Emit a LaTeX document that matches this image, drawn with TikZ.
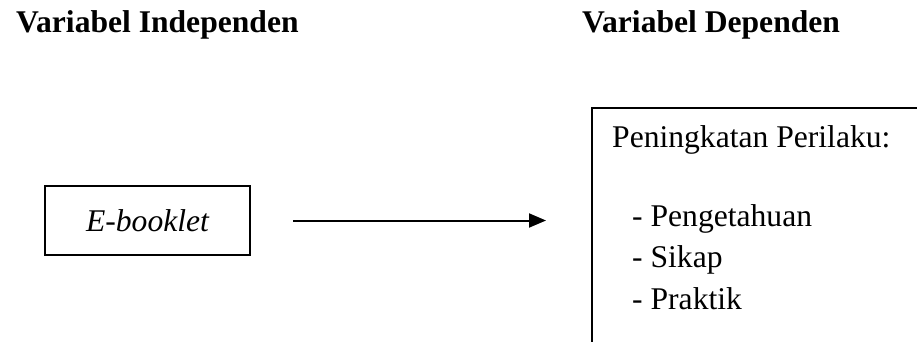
\documentclass[tikz,border=0pt]{standalone}
\usepackage{fontspec}
\setmainfont{Liberation Serif}
\usetikzlibrary{arrows.meta}
\begin{document}
\begin{tikzpicture}[x=1pt,y=-1pt,
  txt/.style={inner sep=0pt, anchor=base west, font=\fontsize{31.6}{38}\selectfont},
  ttl/.style={txt, font=\fontsize{31.6}{38}\selectfont\bfseries},
  boxline/.style={draw=black, line width=2pt},
  arr/.style={line width=2pt, -{Triangle[length=17pt,width=14pt]}}]
\useasboundingbox (0,0) rectangle (917,342);
\clip (0,0) rectangle (917,342);
\node[ttl] (t1) at (16,33) {Variabel Independen};
\node[ttl] (t2) at (582,33) {Variabel Dependen};
\node[boxline, rectangle, minimum width=205pt, minimum height=69pt, inner sep=0pt,
      font=\fontsize{31.6}{38}\selectfont\itshape] (eb) at (147.5,220.5) {E-booklet};
\node[boxline, rectangle, anchor=north west, minimum width=360pt, minimum height=280pt, inner sep=0pt] (pp) at (591,107) {};
\node[txt] (h) at (612,147) {Peningkatan Perilaku:};
\node[txt] (l1) at (632,226) {- Pengetahuan};
\node[txt] (l2) at (632,267) {- Sikap};
\node[txt] (l3) at (632,309) {- Praktik};
\coordinate (ae) at (546,220.5);
\draw[arr, shorten <=42pt] (eb.east) -- (ae);
\end{tikzpicture}
\end{document}
